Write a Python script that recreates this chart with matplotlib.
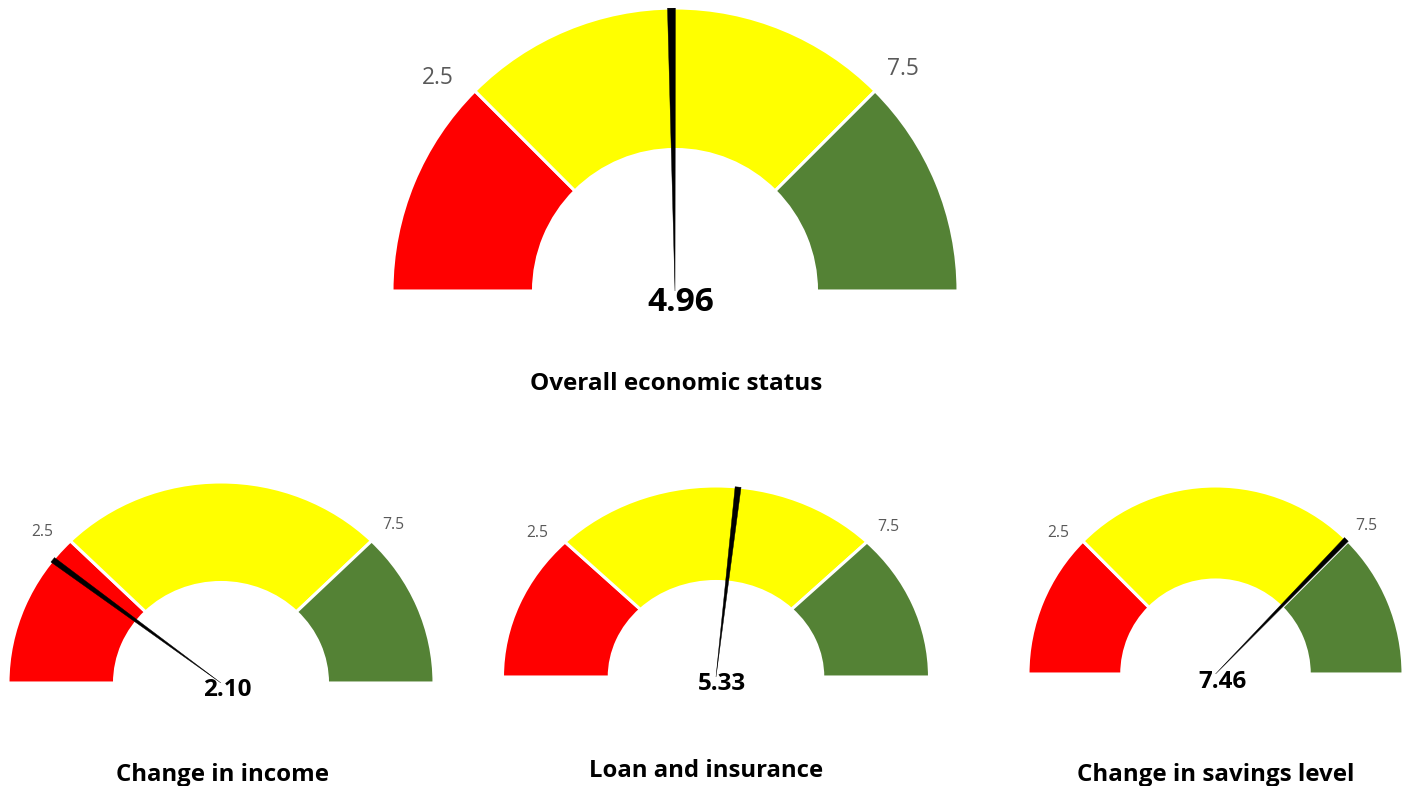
import numpy as np
import matplotlib
matplotlib.use("Agg")
import matplotlib.pyplot as plt
from matplotlib.patches import Wedge, Polygon

# ---- data ----
titles = ["Overall economic status", "Change in income", "Loan and insurance", "Change in savings level"]
values = [4.96, 2.10, 5.33, 7.46]
scale_min, scale_max = 0.0, 10.0
band_edges = [0.0, 2.5, 7.5, 10.0]
band_colors = ["#FF0000", "#FFFF00", "#548235"]
tick_labels = ["2.5", "7.5"]

W, H = 1409, 786
fig = plt.figure(figsize=(W / 100, H / 100), dpi=100)
fig.patch.set_facecolor("white")
FONT = "Open Sans"

# layout: (cx, baseline y, rx, ry) in pixels, title pos, title width, value fontsize, tick width
layout = [
    dict(c=(675, 291), r=(283, 283), title=(676, 384), tw=292, vsize=24, tickw=32, voff=(6, 12)),
    dict(c=(221, 683), r=(213, 201), title=(222, 775), tw=213, vsize=17.5, tickw=22, voff=(6.5, 7.5)),
    dict(c=(716, 677), r=(213.5, 191), title=(706, 771), tw=233, vsize=17.5, tickw=22, voff=(6, 7.5)),
    dict(c=(1215.5, 674), r=(187.5, 188), title=(1216, 775), tw=278, vsize=17.5, tickw=22, voff=(7, 7.5)),
]

renderer = fig.canvas.get_renderer()


def fig_xy(x, y):
    return x / W, 1 - y / H


def fit_text(t, target_w):
    bb = t.get_window_extent(renderer=renderer)
    if bb.width > 0:
        t.set_fontsize(t.get_fontsize() * target_w / bb.width)


def val2ang(v):
    return 180.0 - (v - scale_min) / (scale_max - scale_min) * 180.0


for i, (title, val) in enumerate(zip(titles, values)):
    L = layout[i]
    cx, cy = L["c"]
    rx, ry = L["r"]
    x0, y0 = fig_xy(cx - rx, cy)
    ax = fig.add_axes([x0, y0, 2 * rx / W, ry / H])
    ax.set_xlim(-1, 1)
    ax.set_ylim(0, 1)
    ax.axis("off")

    for lo, hi, col in zip(band_edges[:-1], band_edges[1:], band_colors):
        w = Wedge((0, 0), 1.0, val2ang(hi), val2ang(lo), width=0.5,
                  facecolor=col, edgecolor="white", linewidth=2.2)
        ax.add_patch(w)

    th = np.deg2rad(val2ang(val))
    d = np.deg2rad(0.8)
    needle = Polygon([(0, 0.0), (np.cos(th - d), np.sin(th - d)),
                      (np.cos(th + d), np.sin(th + d))],
                     closed=True, facecolor="black", edgecolor="black",
                     linewidth=0.3, zorder=5)
    ax.add_patch(needle)

    # threshold labels
    for lab, v, dang in zip(tick_labels, band_edges[1:3], [2.6, -0.3]):
        a = np.deg2rad(val2ang(v) + dang)
        t = ax.text(1.135 * np.cos(a), 1.135 * np.sin(a) - 0.013, lab, ha="center", va="center",
                    color="#595959", fontsize=12, family=FONT, clip_on=False)
        fit_text(t, L["tickw"])

    # value label
    ox, oy = L["voff"]
    vx, vy = fig_xy(cx + ox, cy + oy)
    fig.text(vx, vy, f"{val:.2f}", ha="center", va="center", fontsize=L["vsize"],
             fontweight="bold", family=FONT, color="black", zorder=10)

    # title
    tx, ty = fig_xy(*L["title"])
    t = fig.text(tx, ty, title, ha="center", va="center", fontsize=16,
                 fontweight="bold", family=FONT, color="black")
    fit_text(t, L["tw"])

fig.savefig("out.png", dpi=100, facecolor="white")
